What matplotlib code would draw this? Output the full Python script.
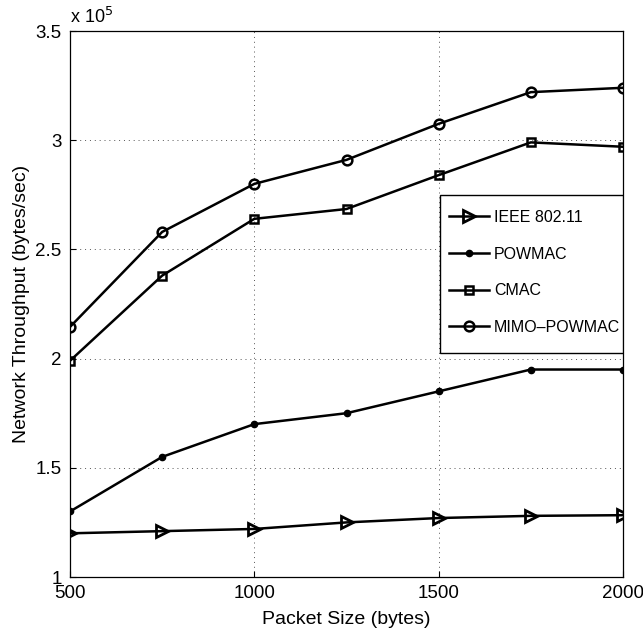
import matplotlib
matplotlib.use("Agg")
import matplotlib.pyplot as plt
from matplotlib.patches import Rectangle
import numpy as np

plt.rcParams['font.family'] = ['Liberation Sans', 'DejaVu Sans']

packet_size = [500, 750, 1000, 1250, 1500, 1750, 2000]
ieee = [1.20, 1.21, 1.22, 1.25, 1.27, 1.28, 1.283]
powmac = [1.30, 1.55, 1.70, 1.75, 1.85, 1.95, 1.95]
cmac = [1.99, 2.38, 2.64, 2.685, 2.84, 2.99, 2.97]
mimo = [2.145, 2.58, 2.80, 2.91, 3.075, 3.22, 3.24]

fig = plt.figure(figsize=(6.43, 6.29), dpi=100)
ax = fig.add_axes([70/643, 52/629, 553/643, 546/629])

scale = 1e5
ax.plot(packet_size, np.array(ieee)*scale, color='black', lw=1.8, marker='>',
        ms=8.5, mfc='none', mew=2.0, label='IEEE 802.11')
ax.plot(packet_size, np.array(powmac)*scale, color='black', lw=1.8, marker='o',
        ms=4.5, mfc='black', label='POWMAC')
ax.plot(packet_size, np.array(cmac)*scale, color='black', lw=1.8, marker='s',
        ms=5.5, mfc='none', mew=1.8, label='CMAC')
ax.plot(packet_size, np.array(mimo)*scale, color='black', lw=1.8, marker='o',
        ms=7, mfc='none', mew=1.8, label='MIMO\u2013POWMAC')

ax.set_xlim(500, 2000)
ax.set_ylim(1e5, 3.5e5)
ax.set_xticks([500, 1000, 1500, 2000])
ax.set_yticks(np.arange(1, 3.51, 0.5)*scale)
ax.set_yticklabels(['1', '1.5', '2', '2.5', '3', '3.5'])
ax.tick_params(direction='in', labelsize=13.5, length=4, width=0.8, pad=6)
ax.grid(True, linestyle=(0, (1, 4)), color='#555555', linewidth=0.7)
for s in ax.spines.values():
    s.set_linewidth(0.9)

ax.text(0.0, 1.008, r'x 10$^{5}$', transform=ax.transAxes, fontsize=13,
        ha='left', va='bottom')

ax.set_xlabel('Packet Size (bytes)', fontsize=14, labelpad=6)
ax.set_ylabel('Network Throughput (bytes/sec)', fontsize=14)

# legend without its own frame; a box is drawn around it afterwards
leg = ax.legend(loc='upper right', bbox_to_anchor=(0.995, 0.672), fontsize=11.5,
                frameon=False, labelspacing=1.35, handlelength=2.5,
                borderpad=0, handletextpad=0.3, borderaxespad=0)
fig.canvas.draw()
bb = leg.get_window_extent().transformed(ax.transAxes.inverted())
px_w = 1 / 553
x0 = bb.x0 - 9 * px_w
x1 = 1.0
y1 = (577 - 195) / 546
y0 = (577 - 353) / 546
ax.add_patch(Rectangle((x0, y0), x1 - x0, y1 - y0, transform=ax.transAxes,
                       facecolor='white', edgecolor='black', lw=1.0, zorder=4))
leg.set_zorder(5)

fig.savefig('out.png', dpi=100)
